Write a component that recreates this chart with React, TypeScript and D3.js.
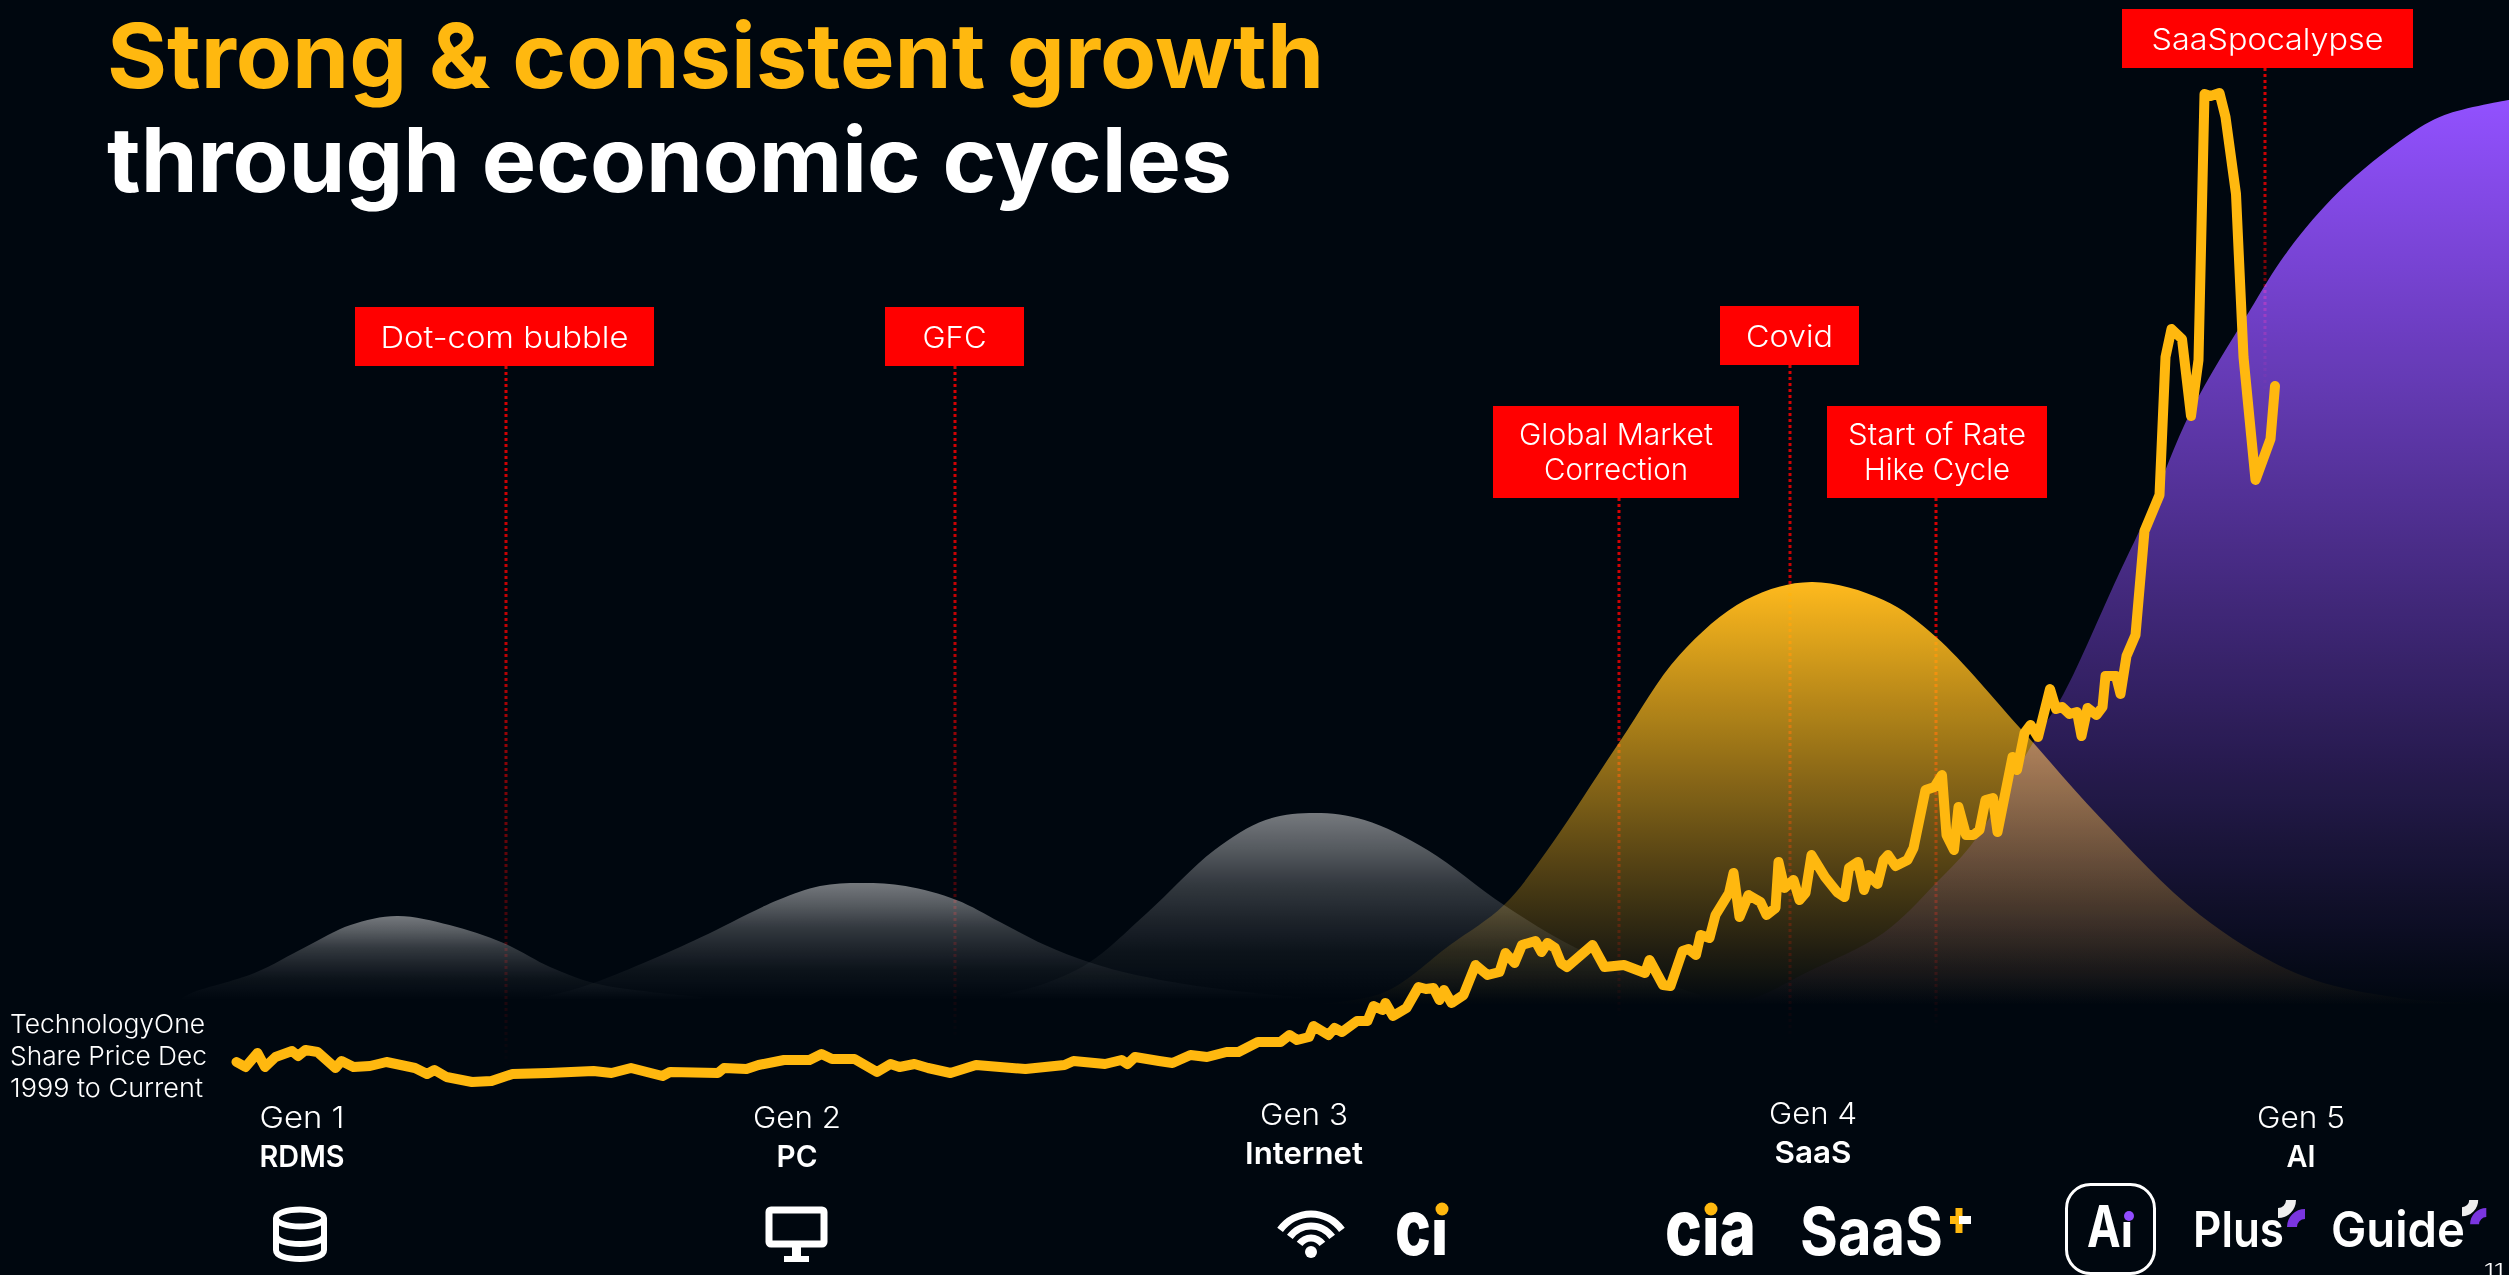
import React, { useEffect, useRef } from "react";
import * as d3 from "d3";

// share price. weeks since Dec 1999, price in A$
const priceWeeks = [3, 9, 17, 22, 29, 40, 44, 49, 57, 69, 73, 81, 92, 103, 122, 130, 135, 143, 160, 173, 187, 211, 241, 253, 266, 287, 292, 324, 328, 343, 351, 368, 385, 393, 400, 415, 430, 439, 445, 455, 464, 479, 496, 512, 529, 555, 561, 582, 593, 597, 602, 618, 627, 639, 650, 663, 671, 684, 699, 705, 710, 718, 721, 731, 735, 740, 750, 757, 761, 767, 769, 774, 783, 791, 796, 801, 805, 808, 813, 821, 829, 837, 845, 849, 855, 860, 869, 873, 877, 882, 886, 890, 907, 915, 928, 942, 945, 954, 959, 967, 971, 976, 979, 985, 989, 998, 1001, 1005, 1011, 1019, 1023, 1029, 1031, 1035, 1041, 1045, 1049, 1053, 1062, 1070, 1075, 1078, 1084, 1088, 1091, 1097, 1101, 1104, 1109, 1117, 1121, 1129, 1135, 1140, 1143, 1148, 1151, 1156, 1161, 1165, 1169, 1174, 1177, 1187, 1190, 1195, 1199, 1204, 1212, 1216, 1220, 1225, 1230, 1233, 1237, 1243, 1247, 1249, 1256, 1259, 1263, 1269, 1275, 1285, 1289, 1293, 1300, 1306, 1311, 1315, 1319, 1325, 1329, 1336, 1341, 1349, 1359, 1362];
const priceValues = [1.4, 1.15, 1.85, 1.15, 1.65, 1.95, 1.7, 2, 1.9, 1.1, 1.45, 1.15, 1.2, 1.4, 1.1, 0.8, 1, 0.65, 0.4, 0.45, 0.8, 0.85, 0.95, 0.85, 1.1, 0.7, 0.9, 0.85, 1.1, 1.05, 1.25, 1.5, 1.5, 1.8, 1.55, 1.55, 0.9, 1.3, 1.15, 1.3, 1.1, 0.85, 1.25, 1.15, 1.05, 1.25, 1.45, 1.3, 1.5, 1.3, 1.65, 1.45, 1.35, 1.75, 1.65, 1.9, 1.9, 2.4, 2.4, 2.75, 2.5, 2.65, 3.2, 2.75, 3.1, 2.9, 3.45, 3.45, 4.2, 4, 4.35, 3.7, 4.1, 5.15, 5.05, 5.1, 4.5, 5, 4.35, 4.75, 6.25, 5.75, 5.9, 6.85, 6.35, 7.25, 7.45, 6.9, 7.35, 7.1, 6.35, 6.15, 7.25, 6.15, 6.25, 5.85, 6.5, 5.25, 5.2, 6.95, 7.05, 6.75, 7.75, 7.6, 8.75, 9.85, 10.85, 8.65, 9.75, 9.4, 8.75, 9.1, 11.4, 10.1, 10.5, 9.5, 9.85, 11.75, 10.65, 9.9, 9.65, 11.1, 11.4, 10, 10.75, 10.3, 11.5, 11.75, 11.2, 11.5, 12.1, 15, 15.15, 15.75, 12.75, 12, 14.15, 12.75, 12.75, 13, 14.5, 14.6, 12.9, 16.65, 16, 17.85, 18.25, 17.65, 20.05, 19.05, 19.15, 18.8, 18.9, 17.7, 19.1, 18.75, 19.15, 20.7, 20.7, 19.8, 21.7, 22.75, 27.95, 29.75, 36.65, 38.05, 37.55, 33.7, 36.5, 49.8, 49.7, 49.85, 48.65, 44.8, 36.65, 30.5, 32.55, 35.2];

// generation humps, same units as the price line
const gen1Weeks = [-35, -27, 15, 49, 79, 110, 145, 181, 212, 241, 279, 313];
const gen1Levels = [4.5, 4.85, 5.85, 7.15, 8.25, 8.7, 8.25, 7.35, 6.15, 5.35, 4.9, 4.65];
const gen2Weeks = [179, 219, 241, 279, 313, 364, 392, 419, 449, 483, 512, 542, 571, 597, 639, 682, 745];
const gen2Levels = [4.25, 4.85, 5.35, 6.5, 7.65, 9.5, 10.2, 10.35, 10.2, 9.5, 8.4, 7.25, 6.4, 5.85, 5.25, 4.85, 4.4];
const gen3Weeks = [512, 539, 571, 610, 655, 689, 722, 755, 797, 848, 896, 939, 979];
const gen3Levels = [4.75, 5.25, 6.35, 8.85, 12, 13.5, 13.85, 13.5, 12, 9.25, 7.1, 5.75, 4.75];
const gen4Weeks = [712, 767, 812, 848, 877, 925, 965, 1009, 1053, 1101, 1136, 1195, 1245, 1312, 1379, 1445, 1492];
const gen4Levels = [4.25, 4.85, 7.25, 9.25, 12, 17.4, 21.75, 24.5, 25.4, 24.5, 22.65, 17.85, 13.65, 8.75, 5.75, 4.6, 4.35];
const gen5Weeks = [945, 1011, 1049, 1101, 1136, 1162, 1201, 1221, 1257, 1278, 1306, 1345, 1371, 1405, 1449, 1475, 1518];
const gen5Levels = [3.75, 4.5, 5.85, 7.85, 10.35, 12.5, 17.4, 19.8, 25.65, 29, 33.95, 38.95, 42, 44.95, 47.65, 48.75, 49.5];

const genNames = ["Gen 1", "Gen 2", "Gen 3", "Gen 4", "Gen 5"];
const genTitles = ["RDMS", "PC", "Internet", "SaaS", "AI"];
const genCentres = [302, 797, 1304, 1813, 2301];
const genBaselines = [1128, 1128, 1125, 1124, 1128];
const genNameWidths = [85, 88, 88, 88, 88];
const genTitleWidths = [85, 41, 118, 77, 29];

const eventLines = [["Dot-com bubble"], ["GFC"], ["Covid"], ["Global Market", "Correction"], ["Start of Rate", "Hike Cycle"], ["SaaSpocalypse"]];
const eventWidths = [[248], [64], [87], [194, 144], [178, 146], [232]];
const eventBoxes = [[355, 307, 299, 59], [885, 307, 139, 59], [1720, 306, 139, 59], [1493, 406, 246, 92], [1827, 406, 220, 92], [2122, 9, 291, 59]];
const eventStems = [506, 955, 1790, 1619, 1936, 2265];
const eventStemEnds = [1067, 1040, 1040, 1017, 1030, 395];

// how the grey humps fade from peak to base
const greyFadeOffsets = [0, 0.2, 0.38, 0.56, 0.74, 1];
const greyFadeAlphas = [0.46, 0.33, 0.2, 0.12, 0.05, 0];

const BG = "#00070f";
const GOLD = "#ffb80f";
const PURPLE = "#924cff";
const RED = "#ff0000";
const FONT = "Inter, sans-serif";

const App = () => {
  const svgRef = useRef<SVGSVGElement>(null);

  useEffect(() => {
    const svg = d3.select(svgRef.current);
    svg.selectAll("*").remove();
    svg.append("rect").attr("width", 2509).attr("height", 1275).attr("fill", BG);
    const defs = svg.append("defs");

    const xScale = d3.scaleLinear().domain([0, 1362]).range([232, 2275]);
    const yScale = d3.scaleLinear().domain([0, 50]).range([1090, 90]);

    // dotted event stems sit behind the humps
    eventStems.forEach((x, i) => {
      const top = eventBoxes[i][1] + eventBoxes[i][3];
      const grad = defs.append("linearGradient").attr("id", "stem" + i)
        .attr("gradientUnits", "userSpaceOnUse")
        .attr("x1", 0).attr("x2", 0).attr("y1", top).attr("y2", eventStemEnds[i]);
      grad.append("stop").attr("offset", 0).attr("stop-color", RED).attr("stop-opacity", 0.85);
      grad.append("stop").attr("offset", 0.4).attr("stop-color", RED).attr("stop-opacity", 0.75);
      grad.append("stop").attr("offset", 1).attr("stop-color", RED).attr("stop-opacity", 0);
      svg.append("line").attr("x1", x + 0.001).attr("x2", x).attr("y1", top).attr("y2", eventStemEnds[i])
        .attr("stroke", "url(#stem" + i + ")").attr("stroke-width", 3).attr("stroke-dasharray", "3 3");
    });

    const humps = [
      { id: "gen1", w: gen1Weeks, l: gen1Levels, colour: "#ffffff", end: 1000 },
      { id: "gen2", w: gen2Weeks, l: gen2Levels, colour: "#ffffff", end: 1000 },
      { id: "gen3", w: gen3Weeks, l: gen3Levels, colour: "#ffffff", end: 1000 },
      { id: "gen5", w: gen5Weeks, l: gen5Levels, colour: PURPLE, end: 1005 },
      { id: "gen4", w: gen4Weeks, l: gen4Levels, colour: GOLD, end: 1005 },
    ];
    const area = d3.area<number>()
      .x((d) => xScale(d))
      .curve(d3.curveCatmullRom.alpha(0.5));

    humps.forEach((h) => {
      const peak = d3.max(h.l) as number;
      const grad = defs.append("linearGradient").attr("id", h.id)
        .attr("gradientUnits", "userSpaceOnUse")
        .attr("x1", 0).attr("x2", 0).attr("y1", yScale(peak)).attr("y2", h.end);
      if (h.colour === "#ffffff") {
        greyFadeOffsets.forEach((o, i) => {
          grad.append("stop").attr("offset", o).attr("stop-color", h.colour).attr("stop-opacity", greyFadeAlphas[i]);
        });
      } else {
        grad.append("stop").attr("offset", 0).attr("stop-color", h.colour).attr("stop-opacity", 1);
        grad.append("stop").attr("offset", 1).attr("stop-color", h.colour).attr("stop-opacity", 0);
      }
      area.y0(yScale(3.5)).y1((_, i) => yScale(h.l[i]));
      svg.append("path").attr("d", area(h.w)).attr("fill", `url(#${h.id})`)
        .style("mix-blend-mode", "screen");
    });

    // share price
    const line = d3.line<number>()
      .x((d) => xScale(d))
      .y((_, i) => yScale(priceValues[i]))
      .curve(d3.curveLinear);
    svg.append("path").attr("d", line(priceWeeks)).attr("fill", "none")
      .attr("stroke", GOLD).attr("stroke-width", 10).attr("stroke-linejoin", "round").attr("stroke-linecap", "round");

    const text = (str: string, x: number, y: number, size: number, weight: number, fill: string, width?: number, anchor = "start") => {
      const t = svg.append("text").attr("x", x).attr("y", y).text(str)
        .attr("font-family", FONT).attr("font-size", size).attr("font-weight", weight)
        .attr("fill", fill).attr("text-anchor", anchor);
      if (width) t.attr("textLength", width).attr("lengthAdjust", "spacingAndGlyphs");
      return t;
    };

    // title
    text("Strong & consistent growth", 107, 88, 90, 700, GOLD, 1217);
    text("through economic cycles", 107, 192, 90, 700, "#ffffff", 1125);

    // event boxes
    eventLines.forEach((lines, i) => {
      const [bx, by, bw, bh] = eventBoxes[i];
      svg.append("rect").attr("x", bx).attr("y", by).attr("width", bw).attr("height", bh).attr("fill", RED);
      const first = lines.length === 2 ? by + 39 : by + 41;
      lines.forEach((str, j) => {
        text(str, bx + bw / 2, first + j * 35, 30, 300, "#ffffff", eventWidths[i][j], "middle");
      });
    });

    // side note
    text("TechnologyOne", 10, 1033, 26, 300, "#ffffff", 195);
    text("Share Price Dec", 10, 1065, 26, 300, "#ffffff", 197);
    text("1999 to Current", 10, 1097, 26, 300, "#ffffff", 193);

    // generation labels
    genNames.forEach((name, i) => {
      text(name, genCentres[i], genBaselines[i], 30, 300, "#ffffff", genNameWidths[i], "middle");
      text(genTitles[i], genCentres[i], genBaselines[i] + 39, 30, 600, "#ffffff", genTitleWidths[i], "middle");
    });

    // icons: database
    const db = svg.append("g").attr("fill", "none").attr("stroke", "#fff").attr("stroke-width", 6);
    db.append("ellipse").attr("cx", 300).attr("cy", 1218).attr("rx", 24).attr("ry", 8.5);
    db.append("path").attr("d", "M276 1218V1250C276 1256 287 1259 300 1259C313 1259 324 1256 324 1250V1218");
    db.append("path").attr("d", "M276 1235C276 1241 287 1244 300 1244C313 1244 324 1241 324 1235");

    // icons: monitor
    const mon = svg.append("g");
    mon.append("rect").attr("x", 769).attr("y", 1210).attr("width", 55).attr("height", 34).attr("rx", 2)
      .attr("fill", "none").attr("stroke", "#fff").attr("stroke-width", 7);
    mon.append("rect").attr("x", 792).attr("y", 1247).attr("width", 9).attr("height", 10).attr("fill", "#fff");
    mon.append("rect").attr("x", 784).attr("y", 1256).attr("width", 25).attr("height", 6).attr("fill", "#fff");

    // icons: wifi
    const wifiArc = d3.arc();
    [38, 26, 14].forEach((r) => {
      svg.append("path")
        .attr("d", wifiArc({ innerRadius: r - 3.5, outerRadius: r + 3.5, startAngle: -0.95, endAngle: 0.95 }))
        .attr("transform", "translate(1311,1252)").attr("fill", "#fff");
    });
    svg.append("circle").attr("cx", 1311).attr("cy", 1252).attr("r", 6).attr("fill", "#fff");

    // product logos
    text("ci", 1395, 1255, 78, 800, "#ffffff", 53);
    svg.append("rect").attr("x", 1430).attr("y", 1190).attr("width", 22).attr("height", 30).attr("fill", BG);
    svg.append("circle").attr("cx", 1442).attr("cy", 1209).attr("r", 6.5).attr("fill", GOLD);

    text("cia", 1665, 1255, 78, 800, "#ffffff", 91);
    svg.append("rect").attr("x", 1700).attr("y", 1190).attr("width", 22).attr("height", 28).attr("fill", BG);
    svg.append("circle").attr("cx", 1711).attr("cy", 1209).attr("r", 6.5).attr("fill", GOLD);

    text("SaaS", 1800, 1255, 66, 700, "#ffffff", 143);
    svg.append("rect").attr("x", 1955.5).attr("y", 1208).attr("width", 7).attr("height", 25).attr("fill", GOLD);
    svg.append("rect").attr("x", 1950).attr("y", 1216).attr("width", 9).attr("height", 8).attr("fill", GOLD);
    svg.append("rect").attr("x", 1959).attr("y", 1216).attr("width", 12).attr("height", 8).attr("fill", "#fff");

    svg.append("rect").attr("x", 2066.5).attr("y", 1184.5).attr("width", 88).attr("height", 89).attr("rx", 24)
      .attr("fill", BG).attr("stroke", "#fff").attr("stroke-width", 3);
    text("Ai", 2087, 1247, 58, 700, "#ffffff", 46);
    svg.append("rect").attr("x", 2121).attr("y", 1200).attr("width", 18).attr("height", 22).attr("fill", BG);
    svg.append("circle").attr("cx", 2129).attr("cy", 1216).attr("r", 5).attr("fill", PURPLE);

    text("Plus", 2193, 1247, 50, 600, "#ffffff", 91);
    text("Guide", 2331, 1247, 50, 600, "#ffffff", 134);

    // little sparks on Plus and Guide, two quarter rings
    const spark = d3.arc();
    [[2278, 1200, 1], [2462, 1200, 0.9]].forEach(([x, y, s]) => {
      svg.append("path")
        .attr("d", spark({ innerRadius: 8 * s, outerRadius: 18 * s, startAngle: Math.PI / 2, endAngle: Math.PI }))
        .attr("transform", `translate(${x},${y})`).attr("fill", "#eeeeee");
      svg.append("path")
        .attr("d", spark({ innerRadius: 8 * s, outerRadius: 18 * s, startAngle: -Math.PI / 2, endAngle: 0 }))
        .attr("transform", `translate(${x + 27 * s},${y + 27 * s})`).attr("fill", "#7a35e0");
    });

    text("11", 2484, 1277, 18, 300, "#ffffff", 20);
  }, []);

  return (
    <svg
      ref={svgRef}
      width={2509}
      height={1275}
      style={{ position: "absolute", left: 0, top: 0, display: "block" }}
    />
  );
};

export default App;
